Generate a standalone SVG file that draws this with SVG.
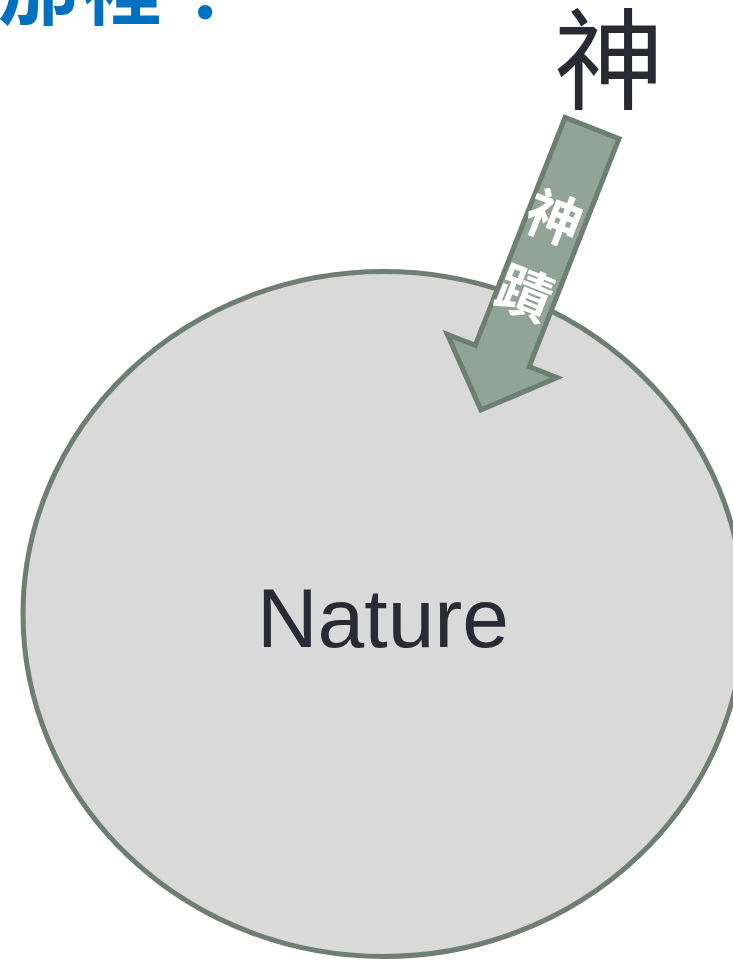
<svg xmlns="http://www.w3.org/2000/svg" width="733" height="963" viewBox="0 0 733 963">
<style>
.cjk{font-family:"Noto Sans CJK TC","Noto Sans CJK SC",sans-serif;}
.nature{fill:#D9D9D9;stroke:#6D7E72;stroke-width:5;}
.arrow{fill:#92A398;stroke:#6D7E72;stroke-width:5;stroke-linejoin:miter;}
</style>
<rect width="733" height="963" fill="#FFFFFF"/>
<g id="title">
<text class="cjk" x="-2" y="18" font-size="80" font-weight="bold" fill="#0070C0" letter-spacing="4">那裡？</text>
</g>
<g id="nature-node">
<ellipse class="nature" cx="383.5" cy="614" rx="360.5" ry="342.5"/>
<text x="383" y="647" font-family="Liberation Sans, Arial, sans-serif" font-size="84" fill="#2A2A35" text-anchor="middle">Nature</text>
</g>
<g id="god-node">
<text class="cjk" x="609" y="101" font-size="110" fill="#2A2A35" text-anchor="middle">神</text>
</g>
<g id="connectors">
<g transform="translate(592,128) rotate(21.5)">
<polygon class="arrow" points="-29,0 29,0 29,245 59,245 0,303 -59,245 -29,245"/>
<text class="cjk" x="-2" y="118" font-size="55" font-weight="bold" fill="#FFFFFF" text-anchor="middle">神</text>
<text class="cjk" x="-2" y="199" font-size="55" font-weight="bold" fill="#FFFFFF" text-anchor="middle">蹟</text>
</g>
</g>
</svg>
